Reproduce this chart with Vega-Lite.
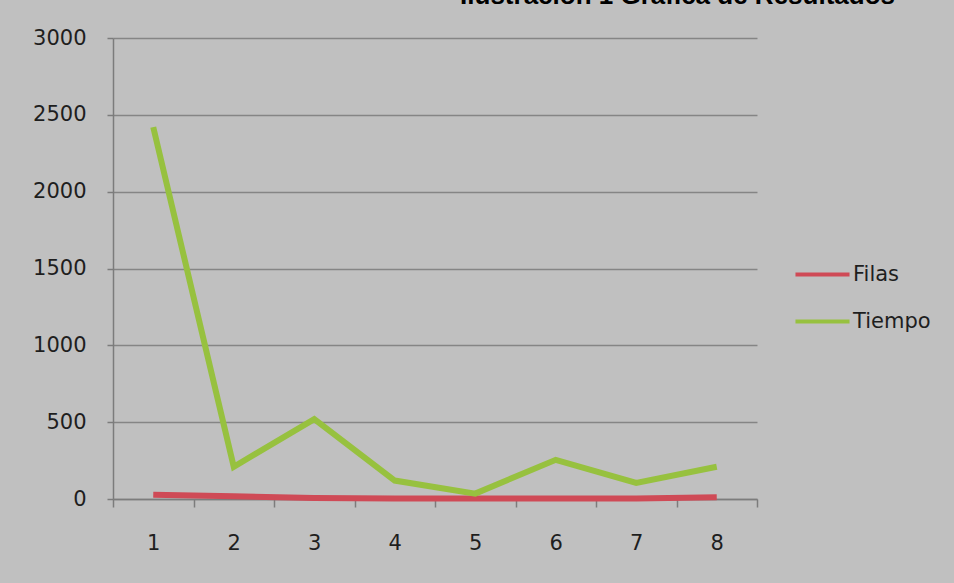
{
  "$schema": "https://vega.github.io/schema/vega-lite/v6.json",
  "autosize": {"type": "none"},
  "padding": {"left": 113, "top": 38, "right": 197, "bottom": 84},
  "width": 644,
  "height": 461,
  "background": "#c0c0c0",
  "title": {
    "text": "Ilustración 1 Gráfica de Resultados",
    "anchor": "end",
    "frame": "group",
    "font": "Liberation Sans",
    "fontSize": 26,
    "fontWeight": "bold",
    "color": "#000000",
    "baseline": "alphabetic",
    "offset": -3,
    "dx": 138
  },
  "config": {
    "view": {"stroke": null},
    "axis": {
      "labelFont": "DejaVu Sans",
      "labelFontSize": 21,
      "labelColor": "#1e1e1e",
      "domainColor": "#7c7c7c",
      "domainWidth": 1.5,
      "tickColor": "#7c7c7c",
      "tickWidth": 1.5,
      "gridColor": "#858585",
      "gridWidth": 1.5,
      "title": null
    }
  },
  "data": {
    "values": [
      {"n": 1, "serie": "Filas", "valor": 28},
      {"n": 2, "serie": "Filas", "valor": 18},
      {"n": 3, "serie": "Filas", "valor": 6},
      {"n": 4, "serie": "Filas", "valor": 4},
      {"n": 5, "serie": "Filas", "valor": 4},
      {"n": 6, "serie": "Filas", "valor": 4},
      {"n": 7, "serie": "Filas", "valor": 4},
      {"n": 8, "serie": "Filas", "valor": 12},
      {"n": 1, "serie": "Tiempo", "valor": 2420},
      {"n": 2, "serie": "Tiempo", "valor": 210},
      {"n": 3, "serie": "Tiempo", "valor": 520},
      {"n": 4, "serie": "Tiempo", "valor": 120},
      {"n": 5, "serie": "Tiempo", "valor": 35},
      {"n": 6, "serie": "Tiempo", "valor": 255},
      {"n": 7, "serie": "Tiempo", "valor": 105},
      {"n": 8, "serie": "Tiempo", "valor": 210}
    ]
  },
  "mark": {"type": "line", "strokeWidth": 6, "strokeCap": "butt", "strokeJoin": "miter"},
  "encoding": {
    "x": {
      "field": "n",
      "type": "quantitative",
      "scale": {"domain": [0.5, 8.5], "nice": false, "zero": false},
      "axis": {
        "values": [0.5, 1, 1.5, 2, 2.5, 3, 3.5, 4, 4.5, 5, 5.5, 6, 6.5, 7, 7.5, 8, 8.5],
        "labelExpr": "datum.value % 1 == 0 ? format(datum.value, 'd') : ''",
        "labelOverlap": false,
        "labelFlush": false,
        "grid": false,
        "tickSize": 8,
        "tickOpacity": {"condition": {"test": "datum.value % 1 == 0", "value": 0}, "value": 1},
        "labelPadding": 25
      }
    },
    "y": {
      "field": "valor",
      "type": "quantitative",
      "scale": {"domain": [0, 3000], "nice": false},
      "axis": {
        "values": [0, 500, 1000, 1500, 2000, 2500, 3000],
        "format": "d",
        "tickSize": 6,
        "labelPadding": 21,
        "labelFlush": false
      }
    },
    "color": {
      "field": "serie",
      "type": "nominal",
      "scale": {"domain": ["Filas", "Tiempo"], "range": ["#cf4a56", "#97c13f"]},
      "legend": {
        "orient": "none",
        "legendX": 684,
        "legendY": 211,
        "title": null,
        "symbolType": "M-1.15,0H1.15",
        "symbolSize": 2209,
        "symbolStrokeWidth": 4,
        "labelFont": "DejaVu Sans",
        "labelFontSize": 21,
        "labelColor": "#1e1e1e",
        "labelOffset": 5,
        "rowPadding": 11
      }
    }
  }
}
